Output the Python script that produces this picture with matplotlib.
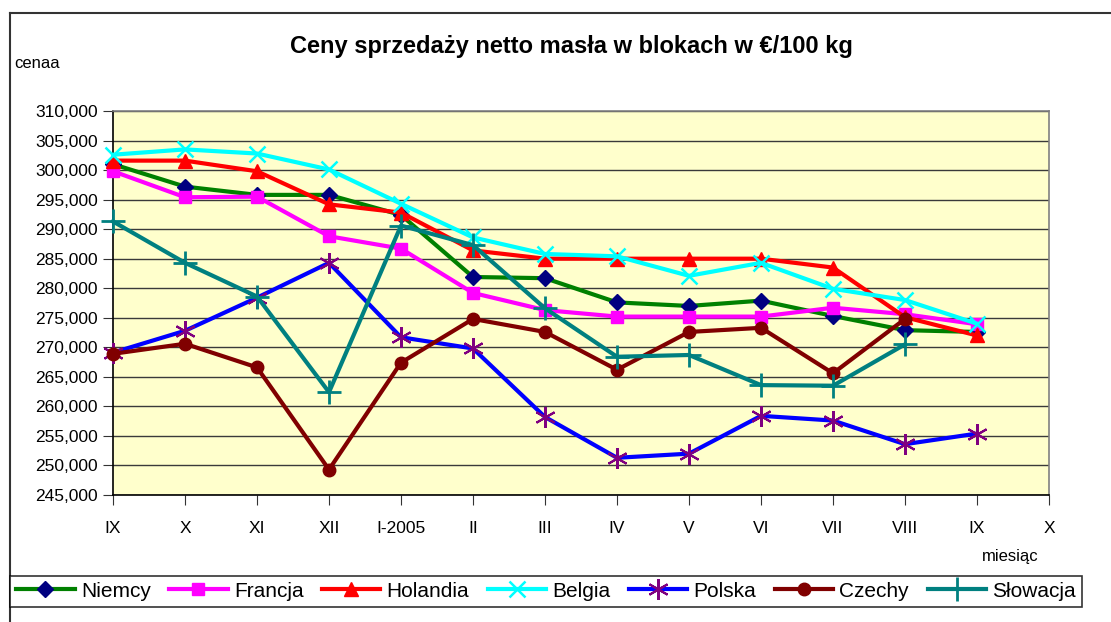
import numpy as np
import matplotlib
matplotlib.use("Agg")
import matplotlib.pyplot as plt
from matplotlib.lines import Line2D

plt.rcParams['font.family'] = ['Liberation Sans', 'DejaVu Sans']

# miesiące
months = ["IX", "X", "XI", "XII", "I-2005", "II", "III", "IV", "V", "VI", "VII", "VIII", "IX", "X"]

# ceny (EUR/100 kg)
niemcy = [301.0, 297.2, 295.8, 295.8, 292.4, 281.9, 281.7, 277.6, 277.0, 277.9, 275.3, 272.9, 272.6, np.nan]
francja = [299.8, 295.4, 295.5, 288.8, 286.7, 279.2, 276.3, 275.2, 275.2, 275.2, 276.7, 275.6, 273.9, np.nan]
holandia = [301.6, 301.6, 299.8, 294.2, 292.8, 286.4, 285.0, 285.0, 285.0, 285.0, 283.5, 275.1, 272.0, np.nan]
belgia = [302.6, 303.5, 302.8, 300.1, 294.3, 288.6, 285.8, 285.4, 282.1, 284.3, 279.9, 278.0, 274.0, np.nan]
polska = [269.1, 272.8, 278.4, 284.3, 271.7, 269.8, 258.2, 251.3, 252.0, 258.4, 257.6, 253.6, 255.4, np.nan]
czechy = [268.9, 270.6, 266.6, 249.3, 267.4, 274.8, 272.6, 266.2, 272.6, 273.3, 265.6, 274.8, np.nan, np.nan]
slowacja = [291.3, 284.3, 278.6, 262.4, 290.6, 287.3, 276.6, 268.4, 268.7, 263.6, 263.5, 270.5, np.nan, np.nan]

yticks = [245, 250, 255, 260, 265, 270, 275, 280, 285, 290, 295, 300, 305, 310]

fig = plt.figure(figsize=(11.11, 6.22), dpi=100)
ax = fig.add_axes([113 / 1111, 1 - 495 / 622, (1049 - 113) / 1111, (495 - 111) / 622])
ax.set_facecolor("#FFFFCC")

x = np.arange(len(months))
series = [
    ("Niemcy", niemcy, dict(color="#008000", marker="D", ms=8, mfc="#000080", mec="#000080")),
    ("Francja", francja, dict(color="#FF00FF", marker="s", ms=9, mfc="#FF00FF", mec="#FF00FF")),
    ("Holandia", holandia, dict(color="#FF0000", marker="^", ms=10, mfc="#FF0000", mec="#FF0000")),
    ("Belgia", belgia, dict(color="#00FFFF", marker="x", ms=11, mec="#00FFFF", mew=1.8)),
    ("Polska", polska, dict(color="#0000FF", marker=(6, 2, 0), ms=15, mec="#800080", mew=1.5)),
    ("Czechy", czechy, dict(color="#800000", marker="o", ms=9, mfc="#800000", mec="#800000")),
    ("Słowacja", slowacja, dict(color="#008080", marker="+", ms=17, mec="#008080", mew=2)),
]
for name, vals, st in series:
    ax.plot(x, vals, lw=3, label=name, clip_on=False, zorder=3, **st)

ax.set_xlim(0, 13)
ax.set_ylim(245, 310)
ax.set_xticks(x)
ax.set_xticklabels(months, fontsize=12.5)
ax.set_yticks(yticks)
ax.set_yticklabels([f"{v:.3f}".replace(".", ",") for v in yticks], fontsize=12.5)
ax.tick_params(axis="x", length=7, pad=12, color="#333333")
ax.tick_params(axis="y", length=7, pad=4, color="#333333")
ax.grid(axis="y", color="#3a3a3a", lw=1, zorder=1)
ax.set_axisbelow(True)
for s in ax.spines.values():
    s.set_color("#808080")
    s.set_linewidth(1.2)
ax.spines["left"].set_color("#000000")
ax.spines["bottom"].set_color("#000000")

fig.text(571 / 1111, 1 - 47 / 622, "Ceny sprzedaży netto masła w blokach w €/100 kg",
         ha="center", va="center", fontsize=17, fontweight="bold")
fig.text(14 / 1111, 1 - 63 / 622, "cenaa", ha="left", va="center", fontsize=12)
fig.text(1010 / 1111, 1 - 557 / 622, "miesiąc", ha="center", va="center", fontsize=12)

# ramka wykresu
fig.add_artist(Line2D([10 / 1111, 1], [1 - 13 / 622] * 2, color="#333333", lw=1.5, transform=fig.transFigure))
fig.add_artist(Line2D([10 / 1111] * 2, [0, 1 - 13 / 622], color="#333333", lw=1.5, transform=fig.transFigure))

leg = fig.legend(loc="lower left", ncol=7, mode="expand",
                 bbox_to_anchor=(10 / 1111, 1 - 607 / 622, (1082 - 10) / 1111, 41 / 622),
                 fontsize=15, handlelength=2.8, handletextpad=0.3, columnspacing=0.6,
                 fancybox=False, edgecolor="#000000", borderaxespad=0, borderpad=0.3)
leg.get_frame().set_linewidth(1.2)

fig.savefig("out.png", dpi=100)
